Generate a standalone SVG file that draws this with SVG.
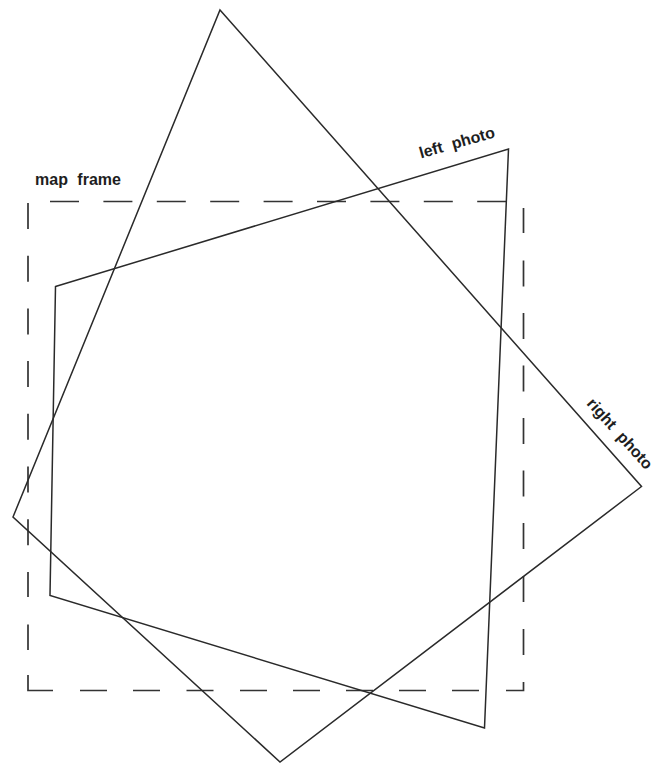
<svg xmlns="http://www.w3.org/2000/svg" width="667" height="763" viewBox="0 0 667 763">
<style>
.photo{fill:none;stroke:#2a2a2a;stroke-width:1.5;stroke-linejoin:miter}
.frame{fill:none;stroke:#333;stroke-width:1.7}
.lbl{font-family:"Liberation Sans",Arial,sans-serif;font-size:16px;font-weight:bold;fill:#1e1e1e;word-spacing:5px}
</style>
<rect width="667" height="763" fill="#fff"/>
<g id="map-frame">
<path class="frame" d="M50,201.5H79 M103.4,201.5H132.4 M156.8,201.5H185.8 M210.2,201.5H239.2 M263.6,201.5H292.6 M317,201.5H346 M370.4,201.5H399.4 M423.8,201.5H452.8 M477.2,201.5H507
M28,203V229 M28,255.7V281.7 M28,308.4V334.4 M28,361.1V387.1 M28,413.8V439.8 M28,466.5V492.5 M28,519.2V545.2 M28,571.9V597 M28,624.6V650
M28,675V690.5H53
M80,690.5H107 M133,690.5H160 M186.5,690.5H213.5 M240,690.5H267 M293,690.5H320 M346,690.5H373 M399,690.5H426 M452,690.5H479
M506,690.5H523.5V682
M523.5,208V233 M523.5,260.5V286.5 M523.5,313V339 M523.5,365.5V391.5 M523.5,418V444 M523.5,470.5V496.5 M523.5,523V549 M523.5,576V602 M523.5,629V655"/>
<text class="lbl" x="35" y="185">map frame</text>
</g>
<g id="left-photo">
<polygon class="photo" points="55.5,286.5 508.5,149 484.5,728 50,595.5"/>
<text class="lbl" x="421" y="158.5" transform="rotate(-16 421 158.5)">left photo</text>
</g>
<g id="right-photo">
<polygon class="photo" points="220,10 641.5,486.5 280,762 13,517"/>
<text class="lbl" x="586" y="404" transform="rotate(48 586 404)">right photo</text>
</g>
</svg>
